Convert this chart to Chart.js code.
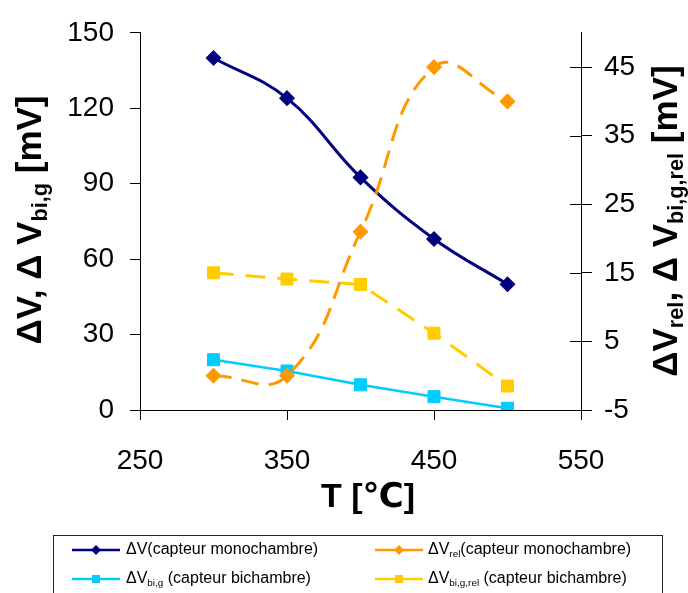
<!DOCTYPE html>
<html>
<head>
<meta charset="utf-8">
<script src="https://cdn.jsdelivr.net/npm/chart.js@4.4.1/dist/chart.umd.min.js"></script>
<style>
  html, body { margin: 0; padding: 0; background: #fff; }
  #chart { display: block; }
</style>
</head>
<body>
<canvas id="chart" width="688" height="593"></canvas>
<script>
// data
const temperatures = [300, 350, 400, 450, 500];
const dvMono = [140, 124, 92.5, 68, 50];          // left axis
const dvBiG = [20, 15.5, 10, 5.3, 0.7];           // left axis
const dvRelMono = [0, 0, 21, 45, 40];             // right axis
const dvBiGRel = [15, 14.1, 13.3, 6.2, -1.5];     // right axis

const xTicks = [250, 350, 450, 550];
const leftTicks = [0, 30, 60, 90, 120, 150];
const rightTicks = [-5, 5, 15, 25, 35, 45];

const FONT = "'Liberation Sans', Arial, 'DejaVu Sans', sans-serif";

const toPoints = values => temperatures.map((t, i) => ({ x: t, y: values[i] }));
const useTicks = list => scale => { scale.ticks = list.map(v => ({ value: v })); };

// text pieces: [text, isSubscript]
const leftTitle = [['ΔV, Δ V', false], ['bi,g', true], [' [mV]', false]];
const rightTitle = [['ΔV', false], ['rel', true], [', Δ V', false], ['bi,g,rel', true], [' [mV]', false]];
const xTitle = [['T [℃]', false]];

const legendRows = [
  [{ ds: 0, parts: [['ΔV(capteur monochambre)', false]] },
   { ds: 2, parts: [['ΔV', false], ['rel', true], ['(capteur monochambre)', false]] }],
  [{ ds: 1, parts: [['ΔV', false], ['bi,g', true], [' (capteur bichambre)', false]] },
   { ds: 3, parts: [['ΔV', false], ['bi,g,rel', true], [' (capteur bichambre)', false]] }]
];

function richWidth(ctx, parts, size, weight) {
  let w = 0;
  parts.forEach(([t, sub]) => {
    ctx.font = weight + ' ' + (sub ? size * 0.62 : size) + 'px ' + FONT;
    w += ctx.measureText(t).width;
  });
  return w;
}

function drawRich(ctx, parts, x, y, size, weight) {
  let cx = x;
  ctx.textBaseline = 'middle';
  ctx.textAlign = 'left';
  parts.forEach(([t, sub]) => {
    ctx.font = weight + ' ' + (sub ? size * 0.62 : size) + 'px ' + FONT;
    ctx.fillText(t, cx, sub ? y + size * 0.28 : y);
    cx += ctx.measureText(t).width;
  });
}

function drawTitle(ctx, parts, cx, cy, size, rotated) {
  ctx.save();
  ctx.translate(cx, cy);
  if (rotated) ctx.rotate(-Math.PI / 2);
  const w = richWidth(ctx, parts, size, 'bold');
  drawRich(ctx, parts, -w / 2, 0, size, 'bold');
  ctx.restore();
}

function drawMarker(ctx, style, x, y, r) {
  ctx.beginPath();
  if (style === 'rectRot') {
    ctx.moveTo(x - r, y); ctx.lineTo(x, y - r); ctx.lineTo(x + r, y); ctx.lineTo(x, y + r);
  } else {
    ctx.rect(x - r, y - r, 2 * r, 2 * r);
  }
  ctx.closePath();
  ctx.fill();
}

const decorPlugin = {
  id: 'decor',
  afterDraw(chart) {
    const ctx = chart.ctx;
    const y2 = chart.scales.y2;

    // right axis ticks cross the axis line
    ctx.save();
    ctx.strokeStyle = '#000';
    ctx.lineWidth = 1;
    y2.ticks.forEach(t => {
      const py = Math.round(y2.getPixelForValue(t.value)) + 0.5;
      ctx.beginPath();
      ctx.moveTo(y2.left - 11, py);
      ctx.lineTo(y2.left, py);
      ctx.stroke();
    });
    ctx.restore();

    ctx.fillStyle = '#000';
    drawTitle(ctx, leftTitle, 31, 220, 35, true);
    drawTitle(ctx, rightTitle, 667, 221, 35, true);
    drawTitle(ctx, xTitle, 368, 498, 34, false);

    // legend box
    ctx.save();
    ctx.strokeStyle = '#222';
    ctx.lineWidth = 1;
    ctx.strokeRect(53.5, 535.5, 609, 80);
    const cols = [{ line: 72, text: 126 }, { line: 375, text: 428 }];
    const rowsY = [550, 579];
    legendRows.forEach((row, ri) => {
      row.forEach((item, ci) => {
        const ds = chart.data.datasets[item.ds];
        const y = rowsY[ri];
        const x0 = cols[ci].line;
        ctx.strokeStyle = ds.borderColor;
        ctx.fillStyle = ds.borderColor;
        ctx.lineWidth = 2.5;
        ctx.beginPath();
        ctx.moveTo(x0, y);
        ctx.lineTo(x0 + 48, y);
        ctx.stroke();
        drawMarker(ctx, ds.pointStyle, x0 + 24, y, ds.pointStyle === 'rectRot' ? 5 : 4);
        ctx.fillStyle = '#000';
        drawRich(ctx, item.parts, cols[ci].text, y, 16, 'normal');
      });
    });
    ctx.restore();
  }
};

const axisCommon = {
  border: { display: true, color: '#000', width: 1 },
  grid: { drawOnChartArea: false, drawTicks: true, color: '#000', lineWidth: 1 },
  ticks: { color: '#000', font: { family: FONT, size: 28 } }
};

new Chart(document.getElementById('chart'), {
  type: 'line',
  data: {
    datasets: [
      {
        label: 'ΔV (capteur monochambre)',
        data: toPoints(dvMono),
        yAxisID: 'y',
        borderColor: '#000080',
        backgroundColor: '#000080',
        borderWidth: 3,
        tension: 0.4,
        pointStyle: 'rectRot',
        pointRadius: 7,
        pointBorderWidth: 1.5,
        order: 1
      },
      {
        label: 'ΔVbi,g (capteur bichambre)',
        data: toPoints(dvBiG),
        yAxisID: 'y',
        borderColor: '#00CCFF',
        backgroundColor: '#00CCFF',
        borderWidth: 2.5,
        tension: 0,
        pointStyle: 'rect',
        pointRadius: 8.5,
        pointBorderWidth: 1,
        order: 3
      },
      {
        label: 'ΔVrel (capteur monochambre)',
        data: toPoints(dvRelMono),
        yAxisID: 'y2',
        borderColor: '#FF9900',
        backgroundColor: '#FF9900',
        borderWidth: 3,
        borderDash: [18, 10],
        tension: 0.45,
        pointStyle: 'rectRot',
        pointRadius: 7,
        pointBorderWidth: 1.5,
        order: 0
      },
      {
        label: 'ΔVbi,g,rel (capteur bichambre)',
        data: toPoints(dvBiGRel),
        yAxisID: 'y2',
        borderColor: '#FFCC00',
        backgroundColor: '#FFCC00',
        borderWidth: 3,
        borderDash: [20, 12],
        tension: 0,
        pointStyle: 'rect',
        pointRadius: 8.5,
        pointBorderWidth: 1,
        order: 2
      }
    ]
  },
  options: {
    responsive: false,
    animation: false,
    devicePixelRatio: 1,
    layout: { padding: { top: 29, left: 0, right: 0, bottom: 0 } },
    plugins: {
      legend: { display: false },
      tooltip: { enabled: false }
    },
    scales: {
      x: {
        type: 'linear',
        position: 'bottom',
        min: 250,
        max: 550,
        afterBuildTicks: useTicks(xTicks),
        afterFit: s => { s.height = 183; },
        border: axisCommon.border,
        grid: { ...axisCommon.grid, tickLength: 10 },
        ticks: { ...axisCommon.ticks, padding: 24, maxRotation: 0 }
      },
      y: {
        type: 'linear',
        position: 'left',
        min: 0,
        max: 150,
        afterBuildTicks: useTicks(leftTicks),
        afterFit: s => { s.width = 140; },
        border: axisCommon.border,
        grid: { ...axisCommon.grid, tickLength: 10 },
        ticks: { ...axisCommon.ticks, padding: 16 }
      },
      y2: {
        type: 'linear',
        position: 'right',
        min: -5,
        max: 50,
        afterBuildTicks: useTicks(rightTicks),
        afterFit: s => { s.width = 107; },
        border: axisCommon.border,
        grid: { ...axisCommon.grid, tickLength: 11 },
        ticks: { ...axisCommon.ticks, padding: 12 }
      }
    }
  },
  plugins: [decorPlugin]
});
</script>
</body>
</html>
